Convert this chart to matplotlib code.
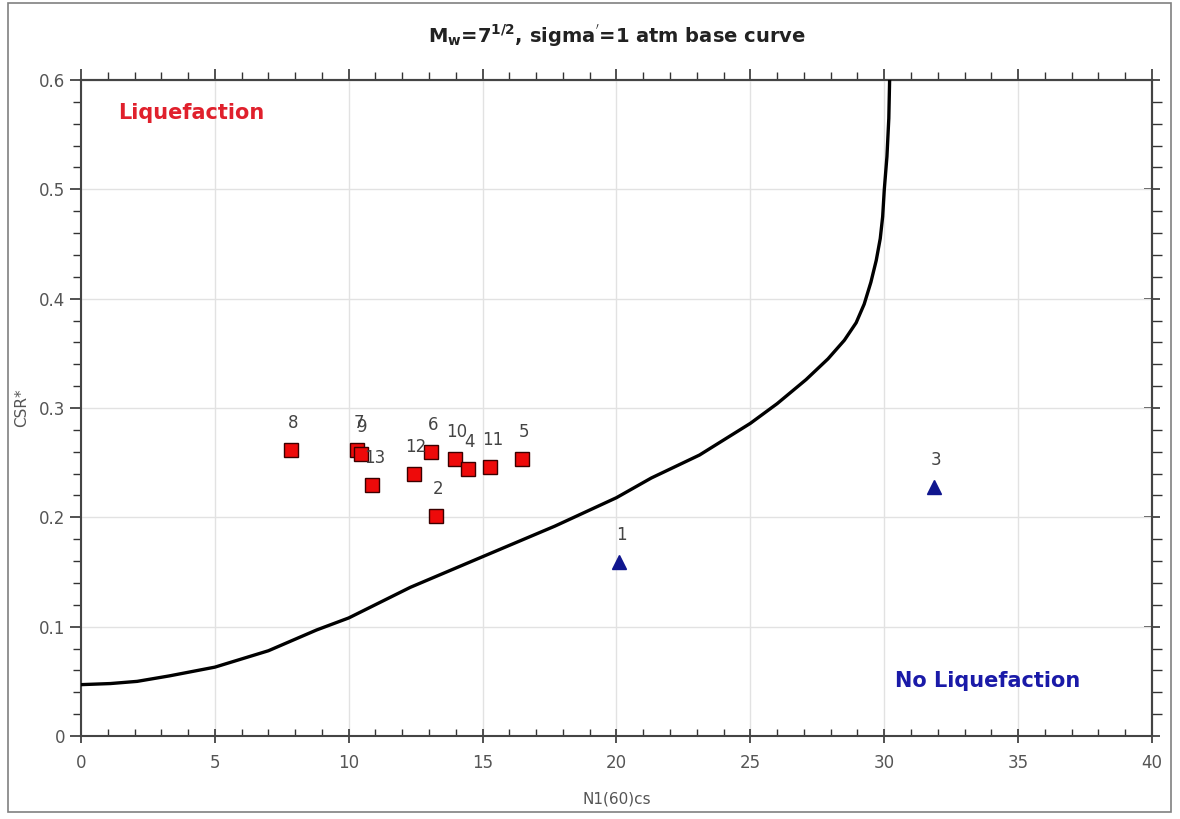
import matplotlib.pyplot as plt
from matplotlib.patches import Rectangle
from matplotlib.ticker import MultipleLocator, NullFormatter

# base curve
curve_n = [0, 1.1, 2.1, 3.3, 5.0, 7.0, 8.8, 10.0, 12.3, 14.9, 17.7, 20.0, 21.3, 23.1,
           25.0, 26.0, 27.08, 27.9, 28.51, 28.95, 29.25, 29.5, 29.7, 29.85, 29.94,
           30.0, 30.1, 30.17, 30.2]
curve_csr = [0.047, 0.048, 0.050, 0.055, 0.063, 0.078, 0.097, 0.108, 0.136, 0.163,
             0.192, 0.218, 0.236, 0.257, 0.286, 0.304, 0.326, 0.345, 0.362, 0.378,
             0.395, 0.415, 0.435, 0.455, 0.475, 0.4995, 0.530, 0.565, 0.600]

# liquefied sites (red squares)
liq_labels = ["8", "7", "9", "13", "12", "6", "2", "10", "4", "11", "5"]
liq_n = [7.86, 10.31, 10.44, 10.88, 12.43, 13.09, 13.25, 13.97, 14.45, 15.29, 16.47]
liq_csr = [0.262, 0.262, 0.258, 0.230, 0.240, 0.260, 0.2015, 0.253, 0.244, 0.246, 0.253]

# non-liquefied sites (blue triangles)
noliq_labels = ["1", "3"]
noliq_n = [20.1, 31.87]
noliq_csr = [0.159, 0.228]

fig = plt.figure(figsize=(11.8, 8.19), dpi=100)
fig.patches.append(Rectangle((0.007, 0.008), 0.985, 0.988, transform=fig.transFigure,
                             fill=False, edgecolor="#808080", linewidth=1.2))
ax = fig.add_axes([0.0686, 0.1013, 0.9077, 0.801])

ax.grid(True, color="#e2e2e2", linewidth=1.0, zorder=0)
ax.plot(curve_n, curve_csr, color="black", linewidth=2.4, zorder=3)

ax.plot(liq_n, liq_csr, linestyle="none", marker="s", markersize=10,
        markerfacecolor="#ee0a0a", markeredgecolor="#3a0000", markeredgewidth=1.0, zorder=4)
ax.plot(noliq_n, noliq_csr, linestyle="none", marker="^", markersize=10,
        markerfacecolor="#10168e", markeredgecolor="#10168e", zorder=4)

for lab, x, y in zip(liq_labels + noliq_labels, liq_n + noliq_n, liq_csr + noliq_csr):
    ax.annotate(lab, (x, y), xytext=(1.5, 13), textcoords="offset points",
                ha="center", va="bottom", fontsize=12, color="#444444", zorder=5)

ax.text(1.38, 0.570, "Liquefaction", color="#e0202c", fontsize=15, fontweight="bold",
        ha="left", va="center")
ax.text(30.4, 0.050, "No Liquefaction", color="#1a1aa8", fontsize=15, fontweight="bold",
        ha="left", va="center")

ax.set_xlim(0, 40)
ax.set_ylim(0, 0.6)
ax.xaxis.set_major_locator(MultipleLocator(5))
ax.xaxis.set_minor_locator(MultipleLocator(1))
ax.yaxis.set_major_locator(MultipleLocator(0.1))
ax.yaxis.set_minor_locator(MultipleLocator(0.02))
ax.yaxis.set_major_formatter(plt.FuncFormatter(lambda v, p: "0" if v == 0 else "%g" % round(v, 1)))

ax.tick_params(axis="both", which="both", colors="#333333", labelcolor="#555555", labelsize=12)
ax.tick_params(axis="x", which="major", direction="inout", length=10, width=1.2, pad=8)
ax.tick_params(axis="x", which="minor", direction="in", length=5, width=1.0)
ax.tick_params(axis="y", which="major", direction="out", length=8, width=1.2)
ax.tick_params(axis="y", which="minor", direction="out", length=6, width=1.0)
for s in ax.spines.values():
    s.set_color("#444444")
    s.set_linewidth(1.5)

# top and right ticks point outward
top = ax.secondary_xaxis("top")
top.xaxis.set_major_locator(MultipleLocator(5))
top.xaxis.set_minor_locator(MultipleLocator(1))
top.xaxis.set_major_formatter(NullFormatter())
top.tick_params(which="major", direction="out", length=8, width=1.2, colors="#333333")
top.tick_params(which="minor", direction="out", length=6, width=1.0, colors="#333333")
top.spines["top"].set_color("#444444")
top.spines["top"].set_linewidth(1.5)
right = ax.secondary_yaxis("right")
right.yaxis.set_major_locator(MultipleLocator(0.1))
right.yaxis.set_minor_locator(MultipleLocator(0.02))
right.yaxis.set_major_formatter(NullFormatter())
right.tick_params(which="major", direction="inout", length=12, width=1.2, colors="#333333")
right.tick_params(which="minor", direction="out", length=7, width=1.0, colors="#333333")
right.spines["right"].set_color("#444444")
right.spines["right"].set_linewidth(1.5)

ax.set_xlabel("N1(60)cs", fontsize=11, color="#555555", labelpad=14)
ax.set_ylabel("CSR*", fontsize=11, color="#555555", labelpad=7)
ax.set_title(r"M$_\mathbf{w}$=7$^\mathbf{1/2}$, sigma$^{'}$=1 atm base curve",
             fontsize=14, fontweight="bold", color="#222222", pad=27)

fig.savefig("out.png", dpi=100)
